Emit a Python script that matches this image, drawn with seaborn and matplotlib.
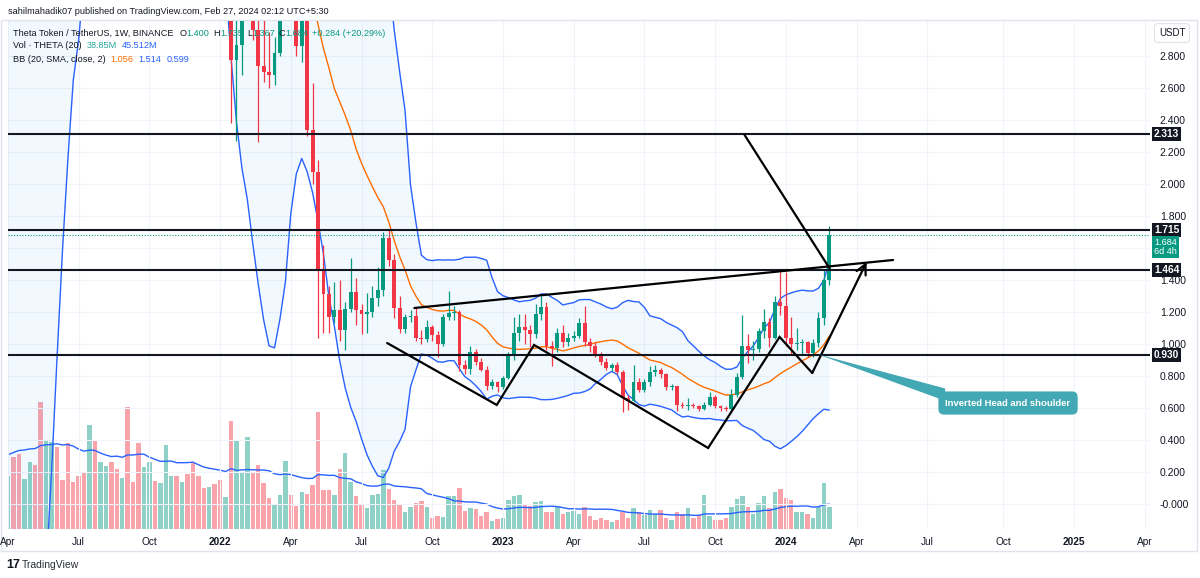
import numpy as np
import pandas as pd
import matplotlib
matplotlib.use("Agg")
import matplotlib.pyplot as plt
import matplotlib.dates as mdates
from matplotlib.patches import Rectangle, Polygon
import seaborn as sns

# ---------------- data (weekly bars, Binance THETA/USDT) ----------------
first_week = "2020-11-23"
first_open = 0.64
closes = [
    # Nov 2020 - Mar 2021 (off view, needed for the 20-week indicators)
    0.66, 0.72, 0.78, 0.95, 1.25, 1.55, 1.85, 2.10, 2.00, 2.30, 2.75, 3.10, 4.10, 3.30, 3.80, 5.20, 7.40, 8.60, 9.80,
    # Apr 2021 - Dec 2021 (above the visible price range)
    12.5, 11.8, 10.6, 11.1, 11.6, 8.9, 6.6, 7.6, 8.9, 8.2, 7.1, 6.4, 6.0, 5.6, 5.2, 6.3, 6.1, 6.6, 7.3, 6.9,
    6.8, 7.4, 6.6, 6.3, 5.8, 6.1, 6.8, 6.6, 6.9, 7.5, 7.7, 7.3, 7.5, 6.2, 5.0, 4.4, 4.2, 4.6, 4.3,
    # 2022
    3.60, 3.80, 2.775, 2.87, 3.20, 3.55, 2.96, 2.74, 2.70, 2.68, 2.82, 3.40, 3.55, 3.10, 2.86, 3.15, 2.34, 2.075,
    1.46, 1.31, 1.17, 1.21, 1.09, 1.22, 1.325, 1.21, 1.19, 1.20, 1.29, 1.335, 1.66, 1.525, 1.225, 1.095, 1.17,
    1.175, 1.04, 1.03, 1.105, 1.056, 1.00, 1.17, 1.195, 1.20, 0.87, 0.845, 0.95, 0.89, 0.84, 0.74, 0.76, 0.73,
    # 2023
    0.79, 0.93, 1.07, 1.105, 1.09, 1.06, 1.19, 1.23, 0.99, 0.975, 1.07, 1.01, 1.04, 1.05, 1.13, 1.01, 0.99, 0.94,
    0.89, 0.85, 0.87, 0.825, 0.665, 0.645, 0.76, 0.71, 0.76, 0.825, 0.835, 0.81, 0.73, 0.735, 0.62, 0.61, 0.615,
    0.61, 0.595, 0.62, 0.67, 0.61, 0.60, 0.595, 0.68, 0.795, 0.99, 0.96, 0.97, 1.08, 1.14, 1.04, 1.26, 1.24,
    # 2024
    1.04, 1.00, 1.005, 1.01, 0.945, 1.005, 1.16, 1.40, 1.684,
]
highs = [
    0.70, 0.75, 0.82, 1.02, 1.35, 1.70, 2.00, 2.40, 2.25, 2.45, 2.95, 3.40, 4.40, 4.20, 4.10, 5.60, 7.80, 9.20, 10.60,
    13.5, 15.9, 12.4, 11.9, 12.6, 11.9, 9.6, 8.3, 9.6, 9.4, 8.6, 7.5, 6.9, 6.3, 5.9, 6.6, 6.8, 6.9, 7.7, 7.6,
    7.4, 7.9, 8.1, 6.9, 6.5, 6.4, 7.1, 7.0, 7.4, 8.0, 8.4, 8.1, 7.9, 7.7, 6.5, 5.4, 4.8, 5.1, 4.8,
    4.40, 3.95, 3.85, 3.10, 3.30, 3.90, 3.65, 3.10, 3.20, 2.95, 2.92, 3.55, 3.85, 3.60, 3.20, 3.30, 3.25, 2.63,
    2.15, 1.62, 1.36, 1.39, 1.40, 1.26, 1.54, 1.41, 1.25, 1.32, 1.36, 1.48, 1.70, 1.71, 1.56, 1.30, 1.19,
    1.21, 1.23, 1.09, 1.15, 1.12, 1.08, 1.19, 1.33, 1.24, 1.21, 0.90, 0.99, 0.97, 0.91, 0.86, 0.78, 0.77,
    0.80, 0.95, 1.17, 1.19, 1.19, 1.12, 1.25, 1.30, 1.26, 1.02, 1.10, 1.12, 1.07, 1.08, 1.16, 1.24, 1.04, 1.01,
    0.95, 0.91, 0.88, 0.89, 0.84, 0.68, 0.87, 0.79, 0.78, 0.86, 0.87, 0.85, 0.82, 0.75, 0.74, 0.64, 0.66,
    0.63, 0.62, 0.64, 0.70, 0.68, 0.62, 0.61, 0.72, 0.82, 1.18, 1.06, 1.02, 1.10, 1.22, 1.16, 1.30, 1.45,
    1.45, 1.17, 1.10, 1.03, 1.02, 1.03, 1.20, 1.46, 1.735,
]
lows = [
    0.60, 0.64, 0.70, 0.76, 0.92, 1.20, 1.45, 1.75, 1.80, 1.95, 2.25, 2.70, 3.00, 3.10, 3.25, 3.70, 5.10, 7.10, 8.10,
    9.4, 11.0, 9.6, 9.9, 10.4, 7.8, 4.3, 5.6, 7.2, 7.6, 6.6, 4.6, 5.6, 5.3, 4.8, 5.0, 5.8, 5.8, 6.3, 6.5,
    6.5, 6.6, 5.4, 5.9, 5.1, 5.6, 5.9, 6.3, 6.4, 6.6, 7.2, 7.0, 6.8, 6.0, 4.6, 3.8, 3.7, 4.1, 4.1,
    3.45, 3.35, 2.38, 2.27, 2.68, 3.10, 2.90, 2.26, 2.64, 2.60, 2.62, 2.80, 3.30, 3.05, 2.80, 2.76, 2.30, 2.00,
    1.04, 1.07, 1.07, 1.13, 1.02, 0.96, 1.20, 1.12, 1.06, 1.07, 1.17, 1.24, 1.30, 1.49, 1.16, 1.07, 1.07,
    1.14, 1.02, 1.00, 1.01, 1.02, 0.92, 0.99, 1.15, 1.15, 0.83, 0.81, 0.81, 0.87, 0.83, 0.71, 0.72, 0.70,
    0.72, 0.78, 0.90, 1.02, 1.00, 0.98, 1.04, 1.15, 0.96, 0.86, 0.95, 0.98, 0.99, 1.02, 1.04, 0.99, 0.95, 0.92,
    0.87, 0.84, 0.83, 0.81, 0.575, 0.59, 0.64, 0.70, 0.70, 0.74, 0.80, 0.79, 0.71, 0.71, 0.58, 0.60, 0.59,
    0.60, 0.58, 0.59, 0.61, 0.60, 0.58, 0.58, 0.59, 0.67, 0.78, 0.88, 0.90, 0.95, 1.04, 0.98, 1.03, 1.18,
    0.99, 0.93, 0.96, 0.93, 0.92, 0.92, 0.98, 1.12, 1.367,
]
volumes_m = [
    50, 60, 70, 80, 100, 120, 130, 140, 120, 125, 135, 140, 200, 170, 140, 170, 210, 180, 170,
    92, 127, 132, 87, 118, 113, 223, 156, 153, 144, 86, 150, 83, 93, 99, 182, 154, 118, 111, 118,
    105, 89, 214, 83, 150, 109, 118, 84, 80, 148, 93, 93, 82, 96, 115, 93, 72, 74, 78,
    86, 56, 189, 156, 99, 162, 100, 112, 81, 55, 44, 60, 119, 60, 40, 65, 62, 77,
    205, 68, 68, 60, 105, 133, 83, 57, 43, 36, 60, 62, 103, 70, 51, 43, 29,
    39, 46, 49, 39, 20, 23, 21, 57, 58, 71, 32, 36, 35, 23, 29, 14, 18,
    19, 51, 58, 60, 42, 41, 48, 49, 29, 30, 39, 27, 30, 32, 26, 39, 22, 16,
    19, 16, 13, 15, 29, 19, 36, 29, 25, 33, 26, 34, 20, 15, 29, 26, 36,
    20, 25, 60, 23, 15, 15, 19, 38, 53, 58, 38, 27, 45, 57, 36, 64, 70,
    54, 50, 29, 29, 26, 20, 39, 80, 38.85,
]

level_prices = [2.313, 1.715, 1.464, 0.930]
last_price = 1.684
last_label = "1.684\n6d 4h"
last_label_price = 1.606

neck_dates = ["2022-09-10", "2024-05-18"]
neck_prices = [1.225, 1.525]
zigzag_dates = ["2022-08-06", "2022-12-25", "2023-02-11", "2023-09-23", "2023-12-24", "2024-02-04", "2024-04-14"]
zigzag_prices = [1.006, 0.619, 0.994, 0.350, 1.044, 0.819, 1.5125]
target_dates = ["2023-11-09", "2024-02-26"]
target_prices = [2.306, 1.475]
callout_dates = ["2024-02-10", "2024-07-24", "2024-07-24"]
callout_prices = [0.9375, 0.722, 0.645]
callout_center = ("2024-10-13", 0.631)
callout_text = "Inverted Head and shoulder"

price_ticks = [0.0, 0.2, 0.4, 0.6, 0.8, 1.0, 1.2, 1.4, 1.6, 1.8, 2.0, 2.2, 2.4, 2.6, 2.8]
price_tick_labels = ["-0.000", "0.200", "0.400", "0.600", "0.800", "1.000", "1.200", "1.400",
                     "", "1.800", "2.000", "2.200", "2.400", "2.600", "2.800"]
time_tick_dates = ["2021-04-05", "2021-07-05", "2021-10-04", "2022-01-03", "2022-04-04", "2022-07-04",
                   "2022-10-03", "2023-01-02", "2023-04-03", "2023-07-03", "2023-10-02", "2024-01-01",
                   "2024-04-01", "2024-07-01", "2024-10-07", "2025-01-06", "2025-04-07"]
time_tick_labels = ["Apr", "Jul", "Oct", "2022", "Apr", "Jul", "Oct", "2023", "Apr", "Jul", "Oct", "2024",
                    "Apr", "Jul", "Oct", "2025", "Apr"]

# ---------------- styling ----------------
sns.set_theme(style="white")
plt.rcParams["font.family"] = ["Liberation Sans", "DejaVu Sans"]

UP, DOWN = "#089981", "#f23645"
BLUE, ORANGE, DARK = "#2962ff", "#ff6d00", "#131722"

W, H = 1200, 578
fig = plt.figure(figsize=(W / 100, H / 100), dpi=100)
fig.patch.set_facecolor("white")


def fx(px):
    return px / W


def fy(py):
    return 1 - py / H


ax = fig.add_axes([fx(8), fy(529), (1150 - 8) / W, (529 - 21) / H])
axv = ax.twinx()
ax.set_zorder(2)
axv.set_zorder(1)
ax.patch.set_visible(False)

# ---------------- frame ----------------
df = pd.DataFrame({
    "date": pd.date_range(first_week, periods=len(closes), freq="7D"),
    "close": closes, "high": highs, "low": lows, "volume": volumes_m,
})
df["open"] = [first_open] + closes[:-1]
df["x"] = mdates.date2num(df["date"])
df["up"] = df["close"] >= df["open"]
df["basis"] = df["close"].rolling(20).mean()
sd = df["close"].rolling(20).std(ddof=0)
df["upper"] = df["basis"] + 2 * sd
df["lower"] = df["basis"] - 2 * sd
df["vol_ma"] = df["volume"].rolling(20).mean()

# ---------------- volume pane ----------------
vcol = np.where(df["up"], UP, DOWN)
axv.bar(df["x"], df["volume"], width=5.7, color=vcol, alpha=0.45, linewidth=0)
sns.lineplot(x=df["x"], y=df["vol_ma"], ax=axv, color=BLUE, lw=1.0, errorbar=None)
axv.set_ylim(0, 890)
axv.set_yticks([])
axv.set_ylabel("")
for s in axv.spines.values():
    s.set_visible(False)

# ---------------- Bollinger bands ----------------
ax.fill_between(df["x"], df["lower"], df["upper"], color="#2196f3", alpha=0.06, lw=0, zorder=1)
sns.lineplot(x=df["x"], y=df["upper"], ax=ax, color=BLUE, lw=1.0, errorbar=None, zorder=2)
sns.lineplot(x=df["x"], y=df["lower"], ax=ax, color=BLUE, lw=1.0, errorbar=None, zorder=2)
sns.lineplot(x=df["x"], y=df["basis"], ax=ax, color=ORANGE, lw=1.0, errorbar=None, zorder=2)

# ---------------- candles ----------------
ccol = np.where(df["up"], UP, DOWN)
ax.vlines(df["x"], df["low"], df["high"], colors=ccol, lw=0.9, zorder=3)
body_lo = np.minimum(df["open"], df["close"])
body_h = np.maximum(np.abs(df["close"] - df["open"]), 0.007)
ax.bar(df["x"], body_h, bottom=body_lo, width=5.0, color=ccol, linewidth=0, zorder=4)

# ---------------- levels ----------------
for p in level_prices:
    ax.axhline(p, color=DARK, lw=1.5, zorder=5)
ax.axhline(last_price, color=UP, lw=0.8, ls=(0, (1, 1.5)), zorder=5)

# ---------------- pattern drawings ----------------
ndx = mdates.date2num(pd.to_datetime(neck_dates))
ax.plot(ndx, neck_prices, color="black", lw=1.6, zorder=6)
zx = mdates.date2num(pd.to_datetime(zigzag_dates))
ax.plot(zx[:-1], zigzag_prices[:-1], color="black", lw=1.6, zorder=6, solid_joinstyle="miter")
ax.annotate("", xy=(zx[-1], zigzag_prices[-1]), xytext=(zx[-2], zigzag_prices[-2]),
            arrowprops=dict(arrowstyle="->,head_length=0.6,head_width=0.3", color="black", lw=1.6,
                            shrinkA=0, shrinkB=0), zorder=6)
tx = mdates.date2num(pd.to_datetime(target_dates))
ax.plot(tx, target_prices, color="black", lw=1.6, zorder=6)

cx = mdates.date2num(pd.to_datetime(callout_dates))
ax.add_patch(Polygon(np.column_stack([cx, callout_prices]), closed=True, fc="#42a9b4", ec="none", zorder=7))
ccx = mdates.date2num(pd.to_datetime(callout_center[0]))
ax.text(ccx, callout_center[1], callout_text, ha="center", va="center", color="white", fontsize=6.8,
        fontweight="bold", zorder=8,
        bbox=dict(boxstyle="round,pad=0.75,rounding_size=0.6", fc="#42a9b4", ec="none"))

# ---------------- axes ----------------
d0 = mdates.date2num(pd.Timestamp("2022-01-03"))
ppd = 5.44 / 7.0
ax.set_xlim(d0 - (220 - 8) / ppd, d0 + (1150 - 220) / ppd)
ax.set_ylim((504 - 529) / 160, (504 - 21) / 160)

ax.yaxis.tick_right()
ax.set_yticks(price_ticks)
ax.set_yticklabels(price_tick_labels)
ax.tick_params(axis="y", length=0, pad=7, labelsize=7.5, labelcolor=DARK, right=True, labelright=True,
               left=False, labelleft=False)
ax.set_xticks(mdates.date2num(pd.to_datetime(time_tick_dates)))
ax.set_xticklabels(time_tick_labels)
ax.tick_params(axis="x", length=0, pad=6, labelsize=7.3, labelcolor=DARK)
for lab in ax.get_xticklabels():
    if lab.get_text().isdigit():
        lab.set_fontweight("bold")
ax.grid(True, color="#f0f3fa", lw=0.8)
ax.set_axisbelow(True)
ax.set_xlabel("")
ax.set_ylabel("")
for s in ax.spines.values():
    s.set_visible(False)

# price labels on the scale
ytr = ax.get_yaxis_transform()
for p in level_prices:
    ax.text(1.0035, p, f"{p:.3f}", transform=ytr, ha="left", va="center", color="white", fontsize=7.3,
            fontweight="bold", zorder=10, clip_on=False,
            bbox=dict(boxstyle="square,pad=0.2", fc=DARK, ec="none"))
ax.text(1.0035, last_label_price, last_label, transform=ytr, ha="left", va="center", color="white",
        fontsize=6.6, zorder=10, clip_on=False, linespacing=1.05,
        bbox=dict(boxstyle="square,pad=0.18", fc=UP, ec="none"))

# ---------------- figure texts ----------------
fig.add_artist(Rectangle((fx(1), fy(551)), 1196 / W, 531 / H, transform=fig.transFigure,
                         fill=False, ec="#e0e3eb", lw=1.0, zorder=0))
fig.text(fx(1172), fy(33), "USDT", ha="center", va="center", fontsize=7, color=DARK,
         bbox=dict(boxstyle="round,pad=0.45,rounding_size=0.3", fc="white", ec="#e0e3eb", lw=0.8))
fig.text(fx(8), fy(12), "sahilmahadik07 published on TradingView.com, Feb 27, 2024 02:12 UTC+5:30",
         ha="left", va="center", fontsize=6.6, color=DARK)

renderer = fig.canvas.get_renderer()


def pieces(items, x0, y0, fs=6.6):
    x = x0
    for txt, col, gap in items:
        t = fig.text(fx(x), fy(y0), txt, color=col, fontsize=fs, ha="left", va="center", zorder=20)
        x += t.get_window_extent(renderer).width + gap


pieces([("Theta Token / TetherUS, 1W, BINANCE", DARK, 6), ("O", DARK, 0), ("1.400", UP, 4),
        ("H", DARK, 0), ("1.735", UP, 4), ("L", DARK, 0), ("1.367", UP, 4), ("C", DARK, 0),
        ("1.684", UP, 4), ("+0.284 (+20.29%)", UP, 0)], 13, 33)
pieces([("Vol · THETA (20)", DARK, 5), ("38.85M", "#26a69a", 5), ("45.512M", BLUE, 0)], 13, 46)
pieces([("BB (20, SMA, close, 2)", DARK, 5), ("1.056", ORANGE, 5), ("1.514", BLUE, 5), ("0.599", BLUE, 0)],
       13, 59)

fig.text(fx(6), fy(565), "17", ha="left", va="center", fontsize=9, fontweight="bold", color=DARK)
fig.text(fx(22), fy(565), "TradingView", ha="left", va="center", fontsize=7.5, color="#2a2e39")

fig.savefig("out.png", dpi=100, facecolor="white")
